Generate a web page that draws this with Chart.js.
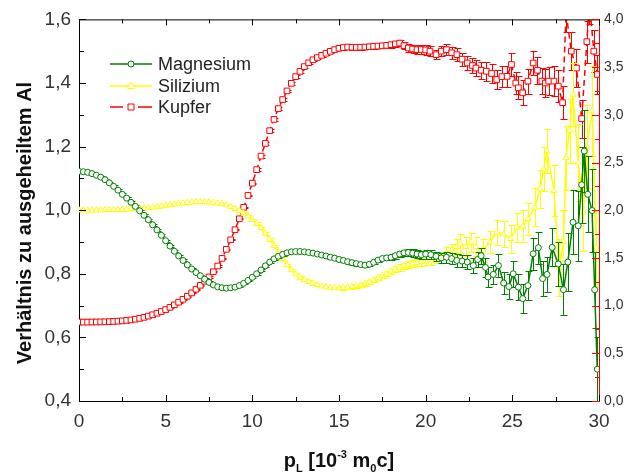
<!DOCTYPE html>
<html>
<head>
<meta charset="utf-8">
<script src="https://cdn.jsdelivr.net/npm/chart.js@4/dist/chart.umd.min.js"></script>
<style>
html,body{margin:0;padding:0;background:#fff;}
canvas{display:block;}
</style>
</head>
<body>
<canvas id="c" width="630" height="476"></canvas>
<script>
// ---------- DATA ----------
const seriesNames = ['Magnesium', 'Silizium', 'Kupfer'];
const xTicksLabels = [0, 5, 10, 15, 20, 25, 30];

// p_L grid of the smooth part (0 ... 20)
const pSmooth = [0,0.25,0.5,0.75,1,1.25,1.5,1.75,2,2.25,2.5,2.75,3,3.25,3.5,3.75,4,4.25,4.5,4.75,
  5,5.25,5.5,5.75,6,6.25,6.5,6.75,7,7.25,7.5,7.75,8,8.25,8.5,8.75,9,9.25,9.5,9.75,
  10,10.25,10.5,10.75,11,11.25,11.5,11.75,12,12.25,12.5,12.75,13,13.25,13.5,13.75,14,14.25,14.5,14.75,
  15,15.25,15.5,15.75,16,16.25,16.5,16.75,17,17.25,17.5,17.75,18,18.25,18.5,18.75,19,19.25,19.5,19.75,20];

// Magnesium (left axis)
const mgSmooth = [1.122,1.121,1.119,1.115,1.110,1.104,1.096,1.086,1.075,1.063,1.050,1.038,1.025,1.012,0.998,0.984,0.970,0.954,0.938,0.921,
  0.904,0.887,0.871,0.856,0.842,0.828,0.815,0.804,0.794,0.783,0.773,0.765,0.759,0.756,0.755,0.756,0.758,0.763,0.770,0.779,
  0.789,0.800,0.812,0.825,0.837,0.847,0.855,0.861,0.866,0.869,0.870,0.870,0.869,0.867,0.865,0.862,0.859,0.856,0.852,0.849,
  0.845,0.842,0.838,0.835,0.832,0.829,0.827,0.830,0.836,0.843,0.848,0.850,0.852,0.857,0.862,0.866,0.867,0.865,0.862,0.860,0.862];
const mgSmoothErr = [0.003,0.003,0.003,0.003,0.003,0.003,0.003,0.003,0.003,0.003,0.003,0.003,0.003,0.003,0.003,0.003,0.003,0.003,0.003,0.003,
  0.003,0.003,0.003,0.003,0.003,0.003,0.003,0.003,0.003,0.003,0.003,0.003,0.003,0.003,0.003,0.003,0.003,0.003,0.003,0.003,
  0.003,0.004,0.004,0.004,0.004,0.004,0.004,0.004,0.004,0.004,0.004,0.004,0.004,0.004,0.004,0.004,0.004,0.004,0.004,0.004,
  0.004,0.006,0.006,0.006,0.006,0.006,0.006,0.006,0.006,0.006,0.006,0.008,0.008,0.009,0.010,0.010,0.011,0.012,0.012,0.013,0.014];
const mgTailP = [20.3,20.6,20.9,21.2,21.5,21.8,22.1,22.4,22.75,23.0,23.2,23.45,23.6,23.9,24.2,24.5,24.8,25.05,25.35,25.6,
  25.9,26.2,26.5,26.75,27.0,27.3,27.65,27.95,28.2,28.5,28.8,29.0,29.15,29.35,29.6,29.75,29.9];
const mgTail = [0.860,0.855,0.850,0.852,0.848,0.842,0.840,0.837,0.826,0.845,0.857,0.820,0.790,0.798,0.826,0.771,0.760,0.800,0.758,0.722,
  0.763,0.863,0.882,0.785,0.798,0.883,0.831,0.750,0.837,0.962,0.951,1.080,1.186,1.050,0.999,0.750,0.500];
const mgTailErr = [0.015,0.015,0.015,0.018,0.018,0.020,0.020,0.022,0.025,0.025,0.025,0.030,0.030,0.030,0.035,0.035,0.040,0.040,0.040,0.045,
  0.045,0.050,0.050,0.055,0.055,0.060,0.070,0.080,0.090,0.100,0.110,0.120,0.130,0.120,0.130,0.120,0.100];

// Silizium (left axis)
const siSmooth = [1.000,1.000,0.999,1.000,1.000,1.000,1.001,1.001,1.001,1.002,1.002,1.003,1.003,1.004,1.005,1.006,1.007,1.009,1.011,1.013,
  1.015,1.017,1.019,1.021,1.022,1.024,1.025,1.026,1.026,1.026,1.025,1.024,1.022,1.020,1.016,1.011,1.005,0.998,0.990,0.981,
  0.970,0.958,0.944,0.927,0.908,0.888,0.868,0.848,0.828,0.812,0.799,0.789,0.781,0.775,0.770,0.765,0.761,0.758,0.756,0.755,
  0.755,0.756,0.757,0.759,0.762,0.765,0.769,0.774,0.780,0.787,0.794,0.801,0.808,0.814,0.820,0.825,0.829,0.832,0.835,0.838,0.841];
const siSmoothErr = mgSmoothErr.slice();
const siTailP = [20.3,20.6,20.9,21.2,21.5,21.8,22.0,22.3,22.6,22.9,23.3,23.7,24.1,24.5,24.9,25.25,25.6,25.9,26.3,26.6,
  26.8,27.0,27.4,27.7,27.95,28.1,28.3,28.5,28.8,29.1,29.3,29.6,29.85];
const siTail = [0.843,0.848,0.852,0.865,0.875,0.885,0.894,0.885,0.899,0.885,0.873,0.900,0.930,0.925,0.910,0.946,0.950,0.973,1.009,1.066,
  1.129,1.186,1.061,0.820,0.900,1.165,1.250,1.364,1.150,0.993,1.200,1.312,0.880];
const siTailErr = [0.015,0.015,0.018,0.020,0.020,0.025,0.030,0.030,0.030,0.030,0.035,0.035,0.040,0.040,0.045,0.045,0.050,0.050,0.060,0.060,
  0.070,0.070,0.080,0.090,0.100,0.100,0.100,0.100,0.120,0.120,0.130,0.140,0.120];

// Kupfer (right axis)
const cuSmooth = [0.827,0.827,0.827,0.828,0.828,0.829,0.830,0.832,0.834,0.837,0.840,0.845,0.850,0.857,0.866,0.877,0.890,0.904,0.920,0.938,
  0.958,0.982,1.008,1.036,1.066,1.098,1.133,1.172,1.213,1.255,1.300,1.355,1.415,1.495,1.590,1.690,1.795,1.910,2.030,2.155,
  2.283,2.425,2.567,2.700,2.833,2.952,3.065,3.160,3.250,3.330,3.400,3.455,3.505,3.545,3.577,3.600,3.623,3.645,3.665,3.683,
  3.697,3.705,3.710,3.708,3.706,3.708,3.710,3.713,3.717,3.720,3.723,3.728,3.735,3.743,3.752,3.725,3.700,3.690,3.683,3.685,3.680];
const cuSmoothErr = [0.006,0.006,0.006,0.006,0.006,0.006,0.006,0.006,0.006,0.006,0.006,0.006,0.006,0.006,0.006,0.006,0.006,0.006,0.006,0.006,
  0.006,0.006,0.006,0.006,0.006,0.006,0.006,0.006,0.006,0.006,0.006,0.006,0.006,0.006,0.006,0.006,0.006,0.006,0.006,0.006,
  0.006,0.015,0.015,0.015,0.015,0.015,0.015,0.015,0.015,0.015,0.015,0.015,0.015,0.015,0.015,0.015,0.015,0.015,0.015,0.015,
  0.015,0.025,0.025,0.025,0.025,0.025,0.025,0.025,0.025,0.025,0.025,0.030,0.030,0.030,0.035,0.035,0.040,0.040,0.045,0.045,0.050];
const cuTailP = [20.25,20.6,20.9,21.2,21.5,21.8,22.1,22.4,22.7,22.9,23.2,23.5,23.8,24.1,24.4,24.7,24.95,25.2,25.35,25.6,
  25.9,26.2,26.45,26.7,26.9,27.1,27.4,27.65,27.9,28.1,28.4,28.7,29.0,29.3,29.45,29.7,29.9];
const cuTail = [3.667,3.630,3.667,3.683,3.650,3.630,3.583,3.543,3.517,3.490,3.467,3.457,3.433,3.370,3.400,3.403,3.527,3.333,3.283,3.230,
  3.353,3.543,3.467,3.353,3.333,3.353,3.353,3.300,3.127,4.070,3.667,3.490,2.960,3.767,4.170,3.667,3.423];
const cuTailErr = [0.050,0.050,0.055,0.060,0.060,0.065,0.070,0.075,0.080,0.080,0.090,0.100,0.100,0.100,0.110,0.110,0.120,0.120,0.120,0.130,
  0.130,0.130,0.140,0.140,0.150,0.150,0.160,0.170,0.170,0.200,0.200,0.200,0.200,0.220,0.220,0.220,0.200];

// ---------- BUILD ----------
function pts(px, py) { return px.map((x, i) => ({ x: x, y: py[i] })); }
const mgData = pts(pSmooth.concat(mgTailP), mgSmooth.concat(mgTail));
const siData = pts(pSmooth.concat(siTailP), siSmooth.concat(siTail));
const cuData = pts(pSmooth.concat(cuTailP), cuSmooth.concat(cuTail));
const errorSets = [mgSmoothErr.concat(mgTailErr), siSmoothErr.concat(siTailErr), cuSmoothErr.concat(cuTailErr)];

const GREEN = '#008000', YELLOW = '#ffff00', RED = '#ff0000';
const FONT = "'Liberation Sans', Arial, sans-serif";
const fmt = v => Number(v).toFixed(1).replace('.', ',');

const decor = {
  id: 'decor',
  beforeDatasetDraw(chart, args) {
    const i = args.index, meta = args.meta, ds = chart.data.datasets[i];
    const ys = chart.scales[meta.yAxisID];
    const a = chart.chartArea, ctx = chart.ctx;
    ctx.save();
    ctx.beginPath();
    ctx.rect(a.left, a.top, a.right - a.left, a.bottom - a.top);
    ctx.clip();
    ctx.strokeStyle = ds.borderColor;
    ctx.lineWidth = 1;
    ctx.beginPath();
    meta.data.forEach((pt, j) => {
      const v = ds.data[j].y, e = errorSets[i][j];
      const y1 = Math.round(ys.getPixelForValue(v + e)) + 0.5;
      const y2 = Math.round(ys.getPixelForValue(v - e)) + 0.5;
      const x = Math.round(pt.x) + 0.5;
      ctx.moveTo(x, y1); ctx.lineTo(x, y2);
      ctx.moveTo(x - 3, y1); ctx.lineTo(x + 4, y1);
      ctx.moveTo(x - 3, y2); ctx.lineTo(x + 4, y2);
    });
    ctx.stroke();
    ctx.restore();
  },
  afterDraw(chart) {
    const ctx = chart.ctx, a = chart.chartArea;
    const xs = chart.scales.x, yl = chart.scales.y, yr = chart.scales.y2;
    ctx.save();
    // top frame
    ctx.strokeStyle = '#000';
    ctx.lineWidth = 1;
    ctx.beginPath();
    ctx.moveTo(a.left, a.top + 0.5); ctx.lineTo(a.right, a.top + 0.5);
    ctx.stroke();
    // x ticks (bottom and top, inward)
    ctx.beginPath();
    for (let k = 0; k <= 12; k++) {
      const x = Math.round(xs.getPixelForValue(k * 2.5)) + 0.5;
      const len = (k % 2 === 0) ? 6 : 4;
      ctx.moveTo(x, a.bottom); ctx.lineTo(x, a.bottom - len);
      ctx.moveTo(x, a.top); ctx.lineTo(x, a.top + len);
    }
    // left ticks
    for (let k = 0; k <= 12; k++) {
      const y = Math.round(yl.getPixelForValue(0.4 + k * 0.1)) + 0.5;
      const len = (k % 2 === 0) ? 7 : 5;
      ctx.moveTo(a.left, y); ctx.lineTo(a.left + len, y);
    }
    ctx.stroke();
    // right ticks (red)
    ctx.strokeStyle = RED;
    ctx.beginPath();
    for (let k = 0; k <= 16; k++) {
      const y = Math.round(yr.getPixelForValue(k * 0.25)) + 0.5;
      const len = (k % 2 === 0) ? 7 : 4;
      ctx.moveTo(a.right, y); ctx.lineTo(a.right - len, y);
    }
    ctx.stroke();

    // y title
    ctx.fillStyle = '#111';
    ctx.font = 'bold 20px ' + FONT;
    ctx.textAlign = 'center';
    ctx.textBaseline = 'middle';
    ctx.save();
    ctx.translate(25, 223);
    ctx.rotate(-Math.PI / 2);
    ctx.fillText('Verhältnis zu ausgeheiltem Al', 0, 0);
    ctx.restore();

    // x title with sub/superscripts
    const parts = [
      { t: 'p', s: 20, dy: 0 },
      { t: 'L', s: 11, dy: 5 },
      { t: ' [10', s: 20, dy: 0 },
      { t: '-3', s: 11, dy: -9 },
      { t: ' m', s: 20, dy: 0 },
      { t: '0', s: 11, dy: 5 },
      { t: 'c]', s: 20, dy: 0 }
    ];
    ctx.textAlign = 'left';
    ctx.textBaseline = 'alphabetic';
    let total = 0;
    parts.forEach(p => { ctx.font = 'bold ' + p.s + 'px ' + FONT; p.w = ctx.measureText(p.t).width; total += p.w; });
    let cx = 339 - total / 2;
    parts.forEach(p => {
      ctx.font = 'bold ' + p.s + 'px ' + FONT;
      ctx.fillText(p.t, cx, 467 + p.dy);
      cx += p.w;
    });

    // legend
    const rows = [
      { name: seriesNames[0], color: GREEN, shape: 'circle', y: 64, dash: false },
      { name: seriesNames[1], color: YELLOW, shape: 'triangle', y: 86, dash: false },
      { name: seriesNames[2], color: RED, shape: 'rect', y: 107, dash: true }
    ];
    rows.forEach(r => {
      ctx.strokeStyle = r.color;
      ctx.lineWidth = 1.5;
      ctx.beginPath();
      if (r.dash) {
        ctx.moveTo(110, r.y); ctx.lineTo(123, r.y);
        ctx.moveTo(138, r.y); ctx.lineTo(152, r.y);
      } else {
        ctx.moveTo(110, r.y); ctx.lineTo(152, r.y);
      }
      ctx.stroke();
      ctx.lineWidth = 1;
      ctx.fillStyle = '#fff';
      ctx.beginPath();
      const mx = 131, my = r.y;
      if (r.shape === 'circle') {
        ctx.arc(mx, my, 3, 0, Math.PI * 2);
      } else if (r.shape === 'triangle') {
        ctx.moveTo(mx, my - 4); ctx.lineTo(mx + 3.8, my + 2.5); ctx.lineTo(mx - 3.8, my + 2.5); ctx.closePath();
      } else {
        ctx.rect(mx - 3, my - 3, 6, 6);
      }
      ctx.fill(); ctx.stroke();
      ctx.fillStyle = '#222';
      ctx.font = '18px ' + FONT;
      ctx.textBaseline = 'middle';
      ctx.fillText(r.name, 158, r.y + 1);
    });
    ctx.restore();
  }
};

new Chart(document.getElementById('c'), {
  type: 'scatter',
  data: {
    datasets: [
      { label: seriesNames[0], data: mgData, yAxisID: 'y', showLine: true,
        borderColor: GREEN, backgroundColor: '#fff', borderWidth: 1.5,
        pointStyle: 'circle', pointRadius: 3, pointBorderWidth: 1, pointBackgroundColor: '#fff', pointBorderColor: GREEN },
      { label: seriesNames[1], data: siData, yAxisID: 'y', showLine: true,
        borderColor: YELLOW, backgroundColor: '#fff', borderWidth: 1.5,
        pointStyle: 'triangle', pointRadius: 3.5, pointBorderWidth: 1, pointBackgroundColor: '#fff', pointBorderColor: YELLOW },
      { label: seriesNames[2], data: cuData, yAxisID: 'y2', showLine: true,
        borderColor: RED, backgroundColor: '#fff', borderWidth: 1.5, borderDash: [6, 4],
        pointStyle: 'rect', pointRadius: 4, pointBorderWidth: 1, pointBackgroundColor: '#fff', pointBorderColor: RED }
    ]
  },
  options: {
    responsive: false,
    animation: false,
    devicePixelRatio: 1,
    layout: { padding: { top: 18, left: 0, right: 0, bottom: 0 } },
    plugins: { legend: { display: false }, tooltip: { enabled: false } },
    scales: {
      x: {
        type: 'linear', min: 0, max: 30,
        grid: { display: false, drawTicks: false, tickLength: 0 },
        border: { display: true, color: '#000', width: 1 },
        ticks: { stepSize: 5, padding: 9, color: '#333', font: { family: FONT, size: 19 },
          callback: v => (xTicksLabels.indexOf(v) >= 0 ? String(v) : '') },
        afterFit: s => { s.height = 75; }
      },
      y: {
        position: 'left', min: 0.4, max: 1.6,
        grid: { display: false, drawTicks: false, tickLength: 0 },
        border: { display: true, color: '#000', width: 1 },
        ticks: { stepSize: 0.2, padding: 8, color: '#333', font: { family: FONT, size: 19 }, callback: fmt },
        afterFit: s => { s.width = 79; }
      },
      y2: {
        position: 'right', min: 0, max: 4,
        grid: { display: false, drawTicks: false, tickLength: 0 },
        border: { display: true, color: RED, width: 1 },
        ticks: { stepSize: 0.5, padding: 5, color: '#333', font: { family: FONT, size: 14 }, callback: fmt },
        afterFit: s => { s.width = 31; }
      }
    }
  },
  plugins: [decor]
});
</script>
</body>
</html>
